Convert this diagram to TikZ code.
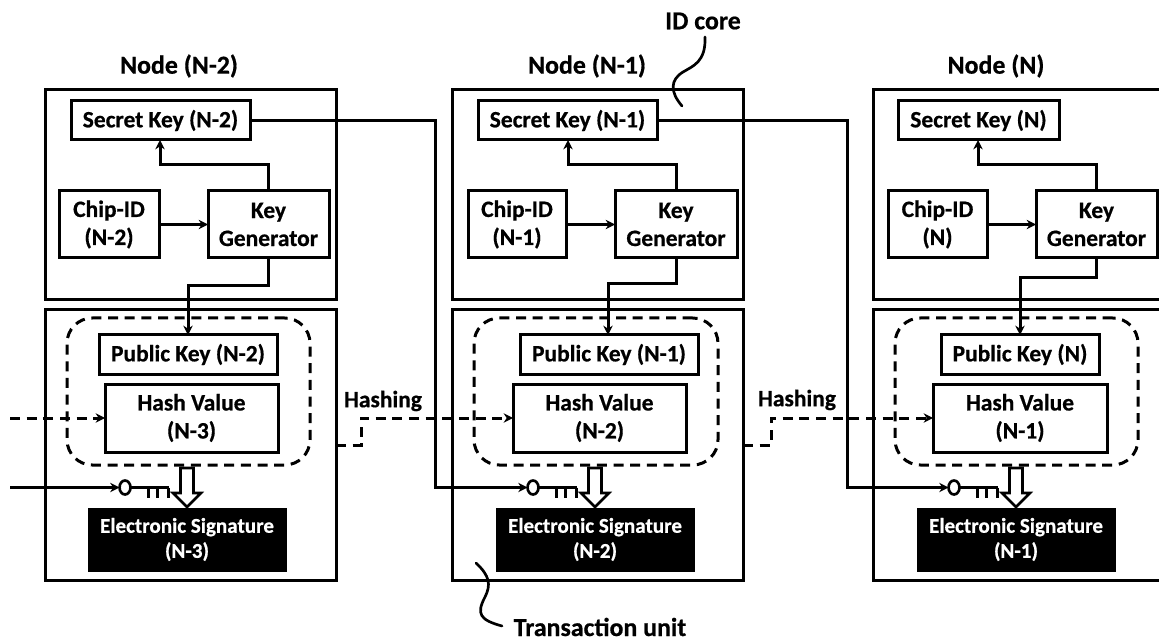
\documentclass[tikz,border=0pt]{standalone}
\usepackage{fontspec}
\setmainfont{Carlito}[BoldFeatures={FakeBold=0.6}]
\usetikzlibrary{arrows.meta,shapes.geometric,calc}
\newcommand{\bx}[7][plain]{%
  \node[#1,minimum width={(#5-#3)*0.75pt},minimum height={(#6-#4)*0.75pt}] (#2) at ({(#3+#5)/2},{(#4+#6)/2}) {#7};}
\tikzset{
  x=0.75pt,y=-0.75pt,
  plain/.style={draw=black,line width=2.25pt,inner sep=0pt,outer sep=0pt,align=center,font=\fontsize{17.6}{21}\selectfont\bfseries},
  region/.style={plain,line width=2.25pt},
  sig/.style={plain,fill=black,draw=black,text=white,line width=0.5pt,font=\fontsize{15.8}{18.8}\selectfont\bfseries},
  dashreg/.style={draw=black,line width=2.25pt,dash pattern=on 7.5pt off 5pt,rounded corners=19pt,inner sep=0pt,outer sep=0pt},
  conn/.style={draw=black,line width=2.25pt},
  arr/.style={conn,-{Stealth[length=7pt,width=7pt]}},
  dconn/.style={conn,dash pattern=on 7.5pt off 5pt},
  darr/.style={dconn,-{Stealth[length=7pt,width=7pt]}},
  head/.style={font=\fontsize{19.4}{22}\selectfont\bfseries,inner sep=0pt},
  hashlbl/.style={font=\fontsize{17.6}{20}\selectfont\bfseries,inner sep=0pt},
  bow/.style={draw=black,line width=2pt,ellipse,minimum width=8.2pt,minimum height=10.5pt,inner sep=0pt,outer sep=0pt},
  keyline/.style={draw=black,line width=2.25pt},
  blockarrow/.style={draw=black,line width=2pt,fill=white,line join=miter},
  curve/.style={draw=black,line width=2pt,line cap=round}
}
\newcommand{\keysym}[2]{% suffix, bow centre x
  \node[bow] (bow#1) at (#2,487.5) {};
  \coordinate (keyend#1) at ($(bow#1)+(44*0.75pt,0)$);
  \draw[keyline] (bow#1.east) -- (keyend#1);
  \foreach \t in {23,32,43}{\draw[keyline] ($(bow#1)+(\t*0.75pt,0)$) -- ++(0,10.5);}
}
\newcommand{\blockarr}[1]{% centre x
  \draw[blockarrow] (#1-6.5,468) -- (#1+6.5,468) -- (#1+6.5,493) -- (#1+14,493) -- (#1,507) -- (#1-14,493) -- (#1-6.5,493) -- cycle;
}
\begin{document}
\begin{tikzpicture}
\useasboundingbox (0,0) rectangle (1159,641);
\clip (0,0) rectangle (1159,641);
% column N-2
\node[head] (title1) at (179,66) {Node (N-2)};
\bx[region]{id1}{45}{90}{336}{300}{}
\bx{sk1}{71}{101}{250}{140}{Secret Key (N-2)}
\bx{chip1}{59}{191}{159}{258}{Chip-ID\\(N-2)}
\bx{kg1}{208}{191}{329}{258}{Key\\Generator}
\bx[region]{tu1}{45}{310}{336}{580}{}
\bx[dashreg]{dr1}{67}{318}{310}{465}{}
\bx{pk1}{99}{335}{277}{374}{Public Key (N-2)}
\bx{hv1}{105}{384}{278}{452}{Hash Value\\(N-3)}
\bx[sig]{es1}{88}{508}{286}{571}{Electronic Signature\\(N-3)}
\keysym{1}{125}
\blockarr{187}
% column N-1
\node[head] (title2) at (587,66) {Node (N-1)};
\bx[region]{id2}{452}{90}{743}{300}{}
\bx{sk2}{478}{101}{657}{140}{Secret Key (N-1)}
\bx{chip2}{468}{191}{566}{258}{Chip-ID\\(N-1)}
\bx{kg2}{615}{191}{737}{258}{Key\\Generator}
\bx[region]{tu2}{452}{310}{743}{580}{}
\bx[dashreg]{dr2}{474}{318}{718}{465}{}
\bx{pk2}{520}{335}{698}{374}{Public Key (N-1)}
\bx{hv2}{513}{384}{686}{452}{Hash Value\\(N-2)}
\bx[sig]{es2}{496}{508}{694}{571}{Electronic Signature\\(N-2)}
\keysym{2}{533}
\blockarr{595}
% column N
\node[head] (title3) at (996,66) {Node (N)};
\bx[region]{id3}{873}{90}{1180}{300}{}
\bx{sk3}{898}{101}{1059}{140}{Secret Key (N)}
\bx{chip3}{888}{191}{987}{258}{Chip-ID\\(N)}
\bx{kg3}{1036}{191}{1157}{258}{Key\\Generator}
\bx[region]{tu3}{873}{310}{1180}{580}{}
\bx[dashreg]{dr3}{895}{318}{1138}{465}{}
\bx{pk3}{941}{335}{1099}{374}{Public Key (N)}
\bx{hv3}{933}{384}{1107}{452}{Hash Value\\(N-1)}
\bx[sig]{es3}{917}{508}{1115}{571}{Electronic Signature\\(N-1)}
\keysym{3}{954}
\blockarr{1016}
% labels
\node[head] (idcore) at (703,21) {ID core};
\node[head] (txunit) at (600,627) {Transaction unit};
\node[hashlbl] (hash1) at (383,401) {Hashing};
\node[hashlbl] (hash2) at (797,400) {Hashing};
% chip -> key generator
\draw[arr] (chip1) -- (kg1);
\draw[arr] (chip2) -- (kg2);
\draw[arr] (chip3) -- (kg3);
% key generator -> secret key
\coordinate (up1) at (160,165); \coordinate (up2) at (568,165); \coordinate (up3) at (978,165);
\draw[arr] (kg1.north) |- (up1) -- (up1 |- sk1.south);
\draw[arr] (kg2.north) |- (up2) -- (up2 |- sk2.south);
\draw[arr] (kg3.north) |- (up3) -- (up3 |- sk3.south);
% key generator -> public key
\coordinate (dn1) at (188,286); \coordinate (dn2) at (608,284); \coordinate (dn3) at (1020,278);
\draw[arr] (kg1.south) |- (dn1) -- (dn1 |- pk1.north);
\draw[arr] (kg2.south) |- (dn2) -- (dn2 |- pk2.north);
\draw[arr] (kg3.south) |- (dn3) -- (dn3 |- pk3.north);
% secret key -> signing key
\coordinate (leftkey) at (10,487.5);
\coordinate (tk2) at (435,487.5); \coordinate (tk3) at (847,487.5);
\draw[arr] (leftkey) -- (bow1.west);
\draw[arr] (sk1.east) -| (tk2) -- (bow2.west);
\draw[arr] (sk2.east) -| (tk3) -- (bow3.west);
% hashing
\coordinate (lefthash) at (10,418);
\coordinate (o1) at (336,445); \coordinate (m1) at (361,445);
\coordinate (o2) at (743,445); \coordinate (m2) at (771,445);
\draw[darr] (lefthash) -- (hv1.west);
\draw[darr] (o1) -- (m1) -- (m1 |- hv2.west) -- (hv2.west);
\draw[darr] (o2) -- (m2) -- (m2 |- hv3.west) -- (hv3.west);
% leader curves
\coordinate (idc) at (705,37); \coordinate (idt) at (682,106);
\draw[curve] (idc) .. controls (706,62) and (693,66) .. (683,72) .. controls (670,80) and (670,92) .. (idt);
\coordinate (txs) at (476,563); \coordinate (txe) at (502,626);
\draw[curve] (txs) .. controls (490,576) and (491,585) .. (485,597) .. controls (476,614) and (480,620) .. (txe);
\end{tikzpicture}
\end{document}
